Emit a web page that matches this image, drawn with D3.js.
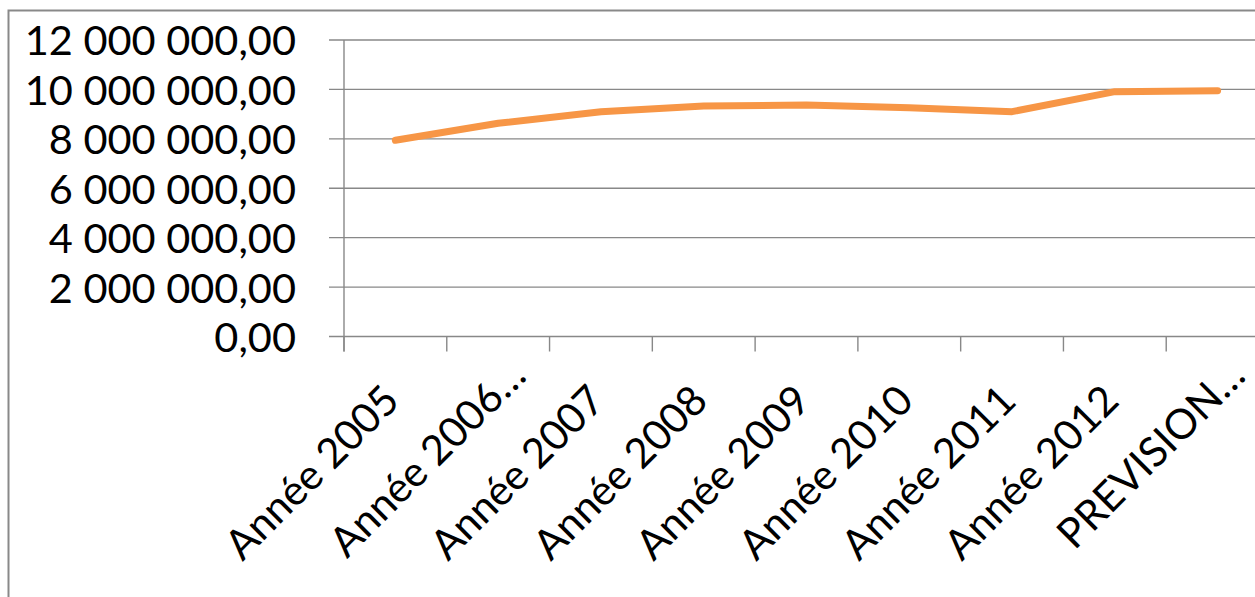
<!DOCTYPE html>
<html>
<head>
<meta charset="utf-8">
<script src="https://cdn.jsdelivr.net/npm/d3@7"></script>
<style>
  html, body { margin: 0; padding: 0; background: #fff; }
  svg { display: block; }
  text { font-family: Lato, "Noto Sans", sans-serif; fill: #000; }
</style>
</head>
<body>
<svg id="chart" width="1255" height="597"></svg>
<script>
// Budget par année (valeurs en euros)
const categories = ["Année 2005", "Année 2006…", "Année 2007", "Année 2008", "Année 2009",
                    "Année 2010", "Année 2011", "Année 2012", "PREVISION…"];
const values = [7940000, 8630000, 9100000, 9330000, 9370000, 9260000, 9100000, 9910000, 9950000];
const yTicks = [0, 2000000, 4000000, 6000000, 8000000, 10000000, 12000000];

const svg = d3.select("#chart");
const W = 1255, H = 597;
const plot = { left: 344, right: 1269, top: 40, bottom: 336.5 };

const x = d3.scaleBand().domain(categories).range([plot.left, plot.right]).paddingInner(0).paddingOuter(0);
const y = d3.scaleLinear().domain([0, 12000000]).range([plot.bottom, plot.top]);

// "12 000 000,00" style numbers
const fmtLocale = d3.formatLocale({ decimal: ",", thousands: "\u00a0", grouping: [3], currency: ["", " €"] });
const fmt = fmtLocale.format(",.2f");

// Chart frame
svg.append("rect")
  .attr("x", 8.5).attr("y", 10.5)
  .attr("width", W).attr("height", H)
  .attr("fill", "none").attr("stroke", "#898989").attr("stroke-width", 2);

// Horizontal gridlines
svg.append("g")
  .selectAll("line").data(yTicks).join("line")
  .attr("x1", plot.left - 15).attr("x2", W)
  .attr("y1", d => y(d)).attr("y2", d => y(d))
  .attr("stroke", "#888").attr("stroke-width", 1.4);

// Y axis labels
const yAxis = d3.axisLeft(y).tickValues(yTicks).tickFormat(fmt).tickSize(0).tickPadding(48);
const gy = svg.append("g").attr("transform", `translate(${plot.left},0)`).call(yAxis);
gy.select(".domain").remove();
gy.selectAll("text")
  .style("font-family", "Lato, 'Noto Sans', sans-serif")
  .style("font-size", "41.5px")
  .attr("dy", "0.36em");

// Vertical axis line
svg.append("line")
  .attr("x1", plot.left).attr("x2", plot.left)
  .attr("y1", plot.top).attr("y2", plot.bottom + 15)
  .attr("stroke", "#888").attr("stroke-width", 1.4);

// X axis with ticks on category boundaries
const boundaries = categories.map(c => x(c)).concat([plot.right]);
svg.append("g").selectAll("line").data(boundaries).join("line")
  .attr("x1", d => d).attr("x2", d => d)
  .attr("y1", plot.bottom).attr("y2", plot.bottom + 15)
  .attr("stroke", "#888").attr("stroke-width", 1.4);

// Rotated category labels: full labels start at the box start,
// shortened labels ("…") end at the box end
const truncated = d => d.endsWith("…");
svg.append("g").selectAll("text").data(categories).join("text")
  .attr("transform", d => {
    const cx = x(d) + x.bandwidth() / 2;
    return truncated(d)
      ? `translate(${cx + 30},${378}) rotate(-45)`
      : `translate(${cx - 153},${562}) rotate(-45)`;
  })
  .attr("text-anchor", d => truncated(d) ? "end" : "start")
  .style("font-size", "41.5px")
  .text(d => d);

// Series line
const line = d3.line()
  .x((d, i) => x(categories[i]) + x.bandwidth() / 2)
  .y(d => y(d));

svg.append("path")
  .datum(values)
  .attr("d", line)
  .attr("fill", "none")
  .attr("stroke", "#F79646")
  .attr("stroke-width", 7)
  .attr("stroke-linecap", "round")
  .attr("stroke-linejoin", "round");
</script>
</body>
</html>
